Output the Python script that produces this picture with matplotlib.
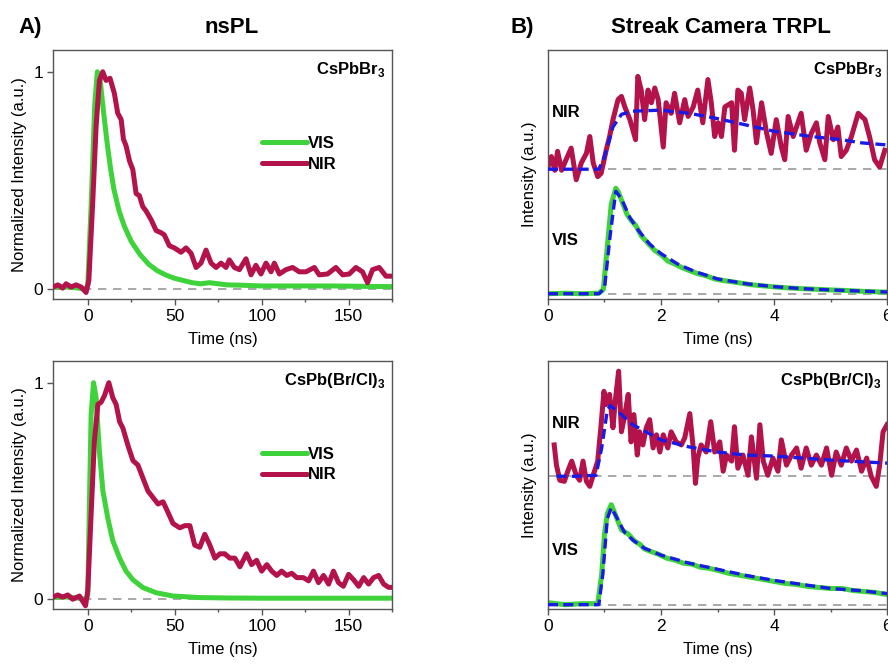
import matplotlib
matplotlib.use("Agg")
import matplotlib.pyplot as plt
from matplotlib.ticker import MultipleLocator

plt.rcParams["font.family"] = ["Liberation Sans", "DejaVu Sans"]
plt.rcParams["mathtext.fontset"] = "custom"
plt.rcParams["mathtext.rm"] = "Liberation Sans"
plt.rcParams["mathtext.bf"] = "Liberation Sans:bold"

RED = "#B3124A"
GREEN = "#3ED33A"
BLUE = "#1A1AE6"
GREY = "#999999"
SPINE = "#555555"

# ---- A) nsPL, CsPbBr3 ----
a1_vis_t = [-20, -10, -1, 0, 2, 4, 5.5, 7, 9, 11, 13, 15, 18, 21, 25, 30, 35, 40, 45, 50,
            55, 60, 65, 70, 80, 90, 100, 120, 140, 160, 175]
a1_vis_v = [0.01, 0.01, 0.0, 0.02, 0.4, 0.85, 1.0, 0.97, 0.82, 0.68, 0.56, 0.46, 0.36, 0.29,
            0.22, 0.16, 0.115, 0.085, 0.065, 0.05, 0.04, 0.03, 0.025, 0.03, 0.02, 0.018,
            0.015, 0.015, 0.015, 0.013, 0.012]
a1_nir_t = [-20, -17.2, -14.4, -12.5, -9.6, -6.7, -3.8, -1.0, 0.6, 2.9, 4.8, 6.7, 8.6, 10.5,
            12.8, 15.3, 17.2, 19.2, 20.5, 22, 24, 25.9, 27.8, 29.7, 31.6, 33.5, 36.4, 39.3,
            42.1, 44, 46.9, 49.8, 53.6, 56.5, 59.4, 62.3, 65.1, 68, 70.9, 73.8, 76.6, 79.5,
            81.4, 84.3, 87.2, 91, 93.9, 96.7, 99.6, 102.5, 105.4, 107.3, 110.2, 114, 117.8,
            121.6, 125.5, 130.3, 133.1, 137.9, 142.7, 146.6, 150.4, 154.2, 158, 160.9, 163.8,
            167.6, 171.5, 175]
a1_nir_v = [0.01, 0.02, 0.005, 0.025, 0.01, 0.02, 0.01, -0.015, 0.04, 0.41, 0.75, 0.96, 1.0,
            0.96, 0.97, 0.90, 0.81, 0.78, 0.69, 0.66, 0.59, 0.55, 0.44, 0.43, 0.38, 0.36, 0.32,
            0.27, 0.26, 0.25, 0.20, 0.19, 0.17, 0.19, 0.165, 0.10, 0.12, 0.18, 0.12, 0.10, 0.12,
            0.10, 0.135, 0.10, 0.09, 0.14, 0.066, 0.11, 0.07, 0.12, 0.08, 0.12, 0.07, 0.09,
            0.10, 0.08, 0.08, 0.10, 0.066, 0.07, 0.10, 0.066, 0.07, 0.10, 0.08, 0.03, 0.09,
            0.10, 0.06, 0.06]

# ---- A) nsPL, CsPb(Br/Cl)3 ----
a2_vis_t = [-20, -10, -1, 0, 1, 1.9, 3.3, 4.8, 6.7, 8.7, 11.5, 14.4, 18.3, 22, 26, 31.7, 39.4,
            49, 64, 80, 100, 130, 160, 175]
a2_vis_v = [0.01, 0.01, 0.0, 0.02, 0.47, 0.85, 1.0, 0.93, 0.68, 0.50, 0.375, 0.27, 0.19, 0.13,
            0.09, 0.054, 0.03, 0.015, 0.008, 0.006, 0.005, 0.005, 0.005, 0.005]
a2_nir_t = [-20, -17.3, -14.4, -11.5, -8.7, -4.8, -1.3, 0, 1.9, 3.8, 5.8, 7.7, 9.6, 12.1, 14.4,
            16.3, 18.3, 20.2, 23.1, 26, 28.8, 31.7, 34.6, 37.5, 40.4, 43.3, 46.2, 49, 52.9,
            55.8, 58.7, 61.5, 64.4, 67.3, 70.2, 73.1, 76, 78.8, 81.7, 84.6, 87.5, 91.3, 94.2,
            97.1, 100, 103, 105.8, 108.7, 111.5, 114.4, 117.3, 120.2, 124, 127, 129.8, 132.7,
            135.6, 138.5, 141.3, 144.2, 147, 150, 152.9, 155.8, 158.7, 161.5, 164.4, 167.3,
            170.2, 173, 175]
a2_nir_v = [0.01, 0.02, 0.01, 0.02, 0.0, 0.015, -0.03, 0.04, 0.39, 0.73, 0.90, 0.91, 0.94, 1.0,
            0.93, 0.90, 0.82, 0.79, 0.71, 0.64, 0.62, 0.56, 0.50, 0.47, 0.44, 0.45, 0.40, 0.35,
            0.33, 0.34, 0.34, 0.25, 0.24, 0.30, 0.25, 0.19, 0.21, 0.21, 0.19, 0.19, 0.15, 0.21,
            0.16, 0.18, 0.13, 0.16, 0.13, 0.11, 0.13, 0.11, 0.12, 0.10, 0.10, 0.085, 0.13,
            0.077, 0.11, 0.07, 0.13, 0.077, 0.06, 0.115, 0.09, 0.06, 0.10, 0.07, 0.10, 0.11,
            0.07, 0.055, 0.055]

# ---- B) streak camera, CsPbBr3 (offset traces) ----
b1_nir_base = 1.18
b1_nir_t = [0.0, 0.06, 0.12, 0.17, 0.24, 0.32, 0.41, 0.50, 0.59, 0.68, 0.74, 0.80, 0.88, 0.94,
            1.03, 1.09, 1.15, 1.24, 1.30, 1.36, 1.45, 1.55, 1.59, 1.65, 1.71, 1.77, 1.83, 1.89,
            1.95, 2.04, 2.09, 2.18, 2.24, 2.33, 2.42, 2.48, 2.57, 2.65, 2.74, 2.83, 2.89, 2.95,
            3.01, 3.07, 3.13, 3.25, 3.30, 3.36, 3.42, 3.48, 3.57, 3.63, 3.69, 3.78, 3.87, 3.95,
            4.04, 4.13, 4.19, 4.25, 4.34, 4.48, 4.57, 4.66, 4.75, 4.81, 4.90, 4.96, 5.05, 5.13,
            5.19, 5.28, 5.37, 5.49, 5.61, 5.69, 5.78, 5.87, 5.96]
b1_nir_v = [1.20, 1.30, 1.17, 1.35, 1.17, 1.27, 1.38, 1.08, 1.24, 1.33, 1.49, 1.24, 1.11, 1.14,
            1.36, 1.49, 1.65, 1.84, 1.87, 1.77, 1.65, 1.46, 2.06, 1.93, 1.65, 1.93, 1.81, 1.95,
            1.84, 1.39, 1.81, 1.71, 1.90, 1.62, 1.84, 1.68, 1.77, 1.93, 1.62, 2.03, 1.81, 1.49,
            1.62, 1.49, 1.77, 1.81, 1.36, 1.93, 1.90, 1.65, 1.95, 1.74, 1.43, 1.81, 1.52, 1.33,
            1.65, 1.39, 1.27, 1.68, 1.49, 1.71, 1.36, 1.52, 1.62, 1.43, 1.27, 1.68, 1.46, 1.58,
            1.30, 1.36, 1.49, 1.71, 1.65, 1.49, 1.27, 1.20, 1.36]
b1_nir_fit_t = [0.0, 0.5, 0.9, 1.0, 1.15, 1.3, 1.5, 2.0, 2.5, 3.0, 3.5, 4.0, 4.66, 5.19, 5.55, 6.0]
b1_nir_fit_v = [1.18, 1.18, 1.18, 1.30, 1.58, 1.70, 1.73, 1.74, 1.71, 1.66, 1.60, 1.54, 1.49,
                1.46, 1.43, 1.41]
b1_vis_t = [0, 0.3, 0.6, 0.9, 0.98, 1.05, 1.12, 1.2, 1.25, 1.32, 1.4, 1.48, 1.55, 1.65, 1.75,
            1.89, 2.0, 2.12, 2.25, 2.36, 2.5, 2.65, 2.8, 2.95, 3.1, 3.3, 3.6, 3.8, 4.0, 4.25,
            4.5, 4.75, 5.0, 5.3, 5.6, 6.0]
b1_vis_v = [0.0, 0.005, 0.0, 0.005, 0.04, 0.45, 0.85, 1.0, 0.96, 0.86, 0.75, 0.69, 0.65, 0.55,
            0.49, 0.41, 0.37, 0.31, 0.28, 0.25, 0.22, 0.19, 0.17, 0.14, 0.125, 0.11, 0.085,
            0.075, 0.065, 0.055, 0.048, 0.042, 0.036, 0.03, 0.022, 0.015]
b1_vis_fit_t = [0, 0.9, 1.0, 1.1, 1.2, 1.3, 1.45, 1.6, 1.8, 2.0, 2.3, 2.6, 3.0, 3.5, 4.0, 4.5,
                5.0, 5.5, 6.0]
b1_vis_fit_v = [0, 0, 0.05, 0.55, 0.97, 0.9, 0.72, 0.6, 0.47, 0.38, 0.28, 0.21, 0.14, 0.095,
                0.067, 0.048, 0.036, 0.026, 0.016]

# ---- B) streak camera, CsPb(Br/Cl)3 ----
b2_nir_base = 1.27
b2_nir_t = [0.11, 0.15, 0.21, 0.29, 0.35, 0.42, 0.50, 0.56, 0.62, 0.68, 0.74, 0.80, 0.88, 0.94,
            0.99, 1.03, 1.09, 1.15, 1.19, 1.25, 1.30, 1.36, 1.42, 1.47, 1.52, 1.58, 1.62, 1.68,
            1.74, 1.80, 1.86, 1.92, 1.98, 2.04, 2.12, 2.18, 2.27, 2.36, 2.42, 2.51, 2.57, 2.61,
            2.65, 2.71, 2.80, 2.88, 2.95, 3.04, 3.10, 3.16, 3.25, 3.30, 3.36, 3.45, 3.54, 3.60,
            3.69, 3.75, 3.81, 3.89, 3.98, 4.07, 4.13, 4.22, 4.31, 4.40, 4.48, 4.57, 4.66, 4.75,
            4.84, 4.93, 5.02, 5.10, 5.19, 5.28, 5.37, 5.46, 5.55, 5.64, 5.72, 5.81, 5.87, 5.93,
            6.0]
b2_nir_v = [1.58, 1.38, 1.23, 1.22, 1.32, 1.42, 1.28, 1.23, 1.42, 1.22, 1.17, 1.28, 1.42, 1.78,
            2.11, 1.98, 2.08, 1.75, 2.01, 2.31, 1.71, 1.88, 2.08, 1.61, 1.88, 1.48, 1.71, 1.58,
            1.75, 1.83, 1.55, 1.68, 1.51, 1.68, 1.55, 1.71, 1.61, 1.58, 1.65, 1.89, 1.55, 1.20,
            1.45, 1.58, 1.51, 1.81, 1.51, 1.61, 1.32, 1.48, 1.42, 1.76, 1.35, 1.48, 1.28, 1.66,
            1.25, 1.78, 1.42, 1.28, 1.45, 1.32, 1.63, 1.38, 1.48, 1.55, 1.35, 1.55, 1.38, 1.48,
            1.38, 1.55, 1.28, 1.51, 1.38, 1.55, 1.42, 1.53, 1.32, 1.45, 1.27, 1.17, 1.38, 1.71,
            1.78]
b2_nir_fit_t = [0.15, 0.5, 0.85, 0.95, 1.05, 1.1, 1.3, 1.5, 2.0, 2.5, 3.0, 3.5, 4.0, 5.0, 6.0]
b2_nir_fit_v = [1.27, 1.27, 1.28, 1.55, 1.92, 1.97, 1.88, 1.78, 1.63, 1.56, 1.51, 1.48, 1.47,
                1.43, 1.40]
b2_vis_t = [0, 0.3, 0.6, 0.88, 0.95, 1.0, 1.05, 1.12, 1.2, 1.3, 1.42, 1.53, 1.62, 1.71, 1.85,
            1.95, 2.1, 2.25, 2.4, 2.55, 2.7, 2.85, 3.0, 3.2, 3.4, 3.6, 3.8, 4.0, 4.2, 4.4, 4.6,
            4.8, 5.0, 5.2, 5.4, 5.6, 5.8, 6.0]
b2_vis_v = [0.02, 0.0, 0.01, 0.01, 0.3, 0.7, 0.9, 0.99, 0.88, 0.74, 0.70, 0.63, 0.60, 0.55,
            0.52, 0.50, 0.46, 0.44, 0.41, 0.40, 0.37, 0.36, 0.34, 0.31, 0.29, 0.27, 0.25, 0.23,
            0.21, 0.20, 0.18, 0.17, 0.16, 0.16, 0.14, 0.13, 0.12, 0.10]
b2_vis_fit_t = [0, 0.9, 0.97, 1.05, 1.12, 1.2, 1.35, 1.5, 1.7, 2.0, 2.5, 3.0, 3.5, 4.0, 4.5,
                5.0, 5.5, 6.0]
b2_vis_fit_v = [0, 0.0, 0.3, 0.85, 0.96, 0.88, 0.72, 0.64, 0.56, 0.49, 0.41, 0.35, 0.29, 0.24,
                0.20, 0.16, 0.14, 0.11]

LW = 3.6
TICK_FS = 12.5
LABEL_FS = 12


def style_axes(ax):
    for s in ax.spines.values():
        s.set_color(SPINE)
        s.set_linewidth(1.0)
    ax.tick_params(axis="both", which="major", direction="out", length=4, width=1,
                   color=SPINE, labelsize=TICK_FS, pad=3)
    ax.tick_params(axis="both", which="minor", direction="out", length=2.5, width=1,
                   color=SPINE)
    ax.set_xlabel("Time (ns)", fontsize=LABEL_FS, labelpad=6)


def panel_a(ax, vis_t, vis_v, nir_t, nir_v, name):
    ax.axhline(0, color=GREY, lw=1.2, dashes=(5, 4), zorder=1)
    ax.plot(vis_t, vis_v, color=GREEN, lw=LW, solid_capstyle="round", label="VIS", zorder=2)
    ax.plot(nir_t, nir_v, color=RED, lw=LW, solid_capstyle="round", label="NIR", zorder=3)
    ax.set_xlim(-20, 175)
    ax.set_ylim(-0.045, 1.1)
    ax.set_xticks([0, 50, 100, 150])
    ax.xaxis.set_minor_locator(MultipleLocator(25))
    ax.set_yticks([0, 1])
    style_axes(ax)
    ax.set_ylabel("Normalized Intensity (a.u.)", fontsize=LABEL_FS, labelpad=5)
    ax.text(0.98, 0.92, name, transform=ax.transAxes, ha="right", va="center",
            fontsize=12, fontweight="bold")
    leg = ax.legend(loc="upper left", bbox_to_anchor=(0.615, 0.655), frameon=False,
                    handlelength=2.7, handletextpad=0.1, labelspacing=0.35,
                    borderpad=0, borderaxespad=0, prop={"size": 12, "weight": "bold"})
    for line in leg.get_lines():
        line.set_linewidth(LW)


def panel_b(ax, nir_t, nir_v, nir_fit_t, nir_fit_v, base, vis_t, vis_v, vis_fit_t,
            vis_fit_v, ylim, name):
    ax.axhline(base, color=GREY, lw=1.2, dashes=(5, 4), zorder=1)
    ax.axhline(0, color=GREY, lw=1.2, dashes=(5, 4), zorder=1)
    ax.plot(nir_t, nir_v, color=RED, lw=LW, zorder=2)
    ax.plot(vis_t, vis_v, color=GREEN, lw=LW, zorder=2)
    ax.plot(nir_fit_t, nir_fit_v, color=BLUE, lw=2.4, dashes=(3, 1.6), zorder=3)
    ax.plot(vis_fit_t, vis_fit_v, color=BLUE, lw=2.4, dashes=(3, 1.6), zorder=3)
    ax.set_xlim(0, 6)
    ax.set_ylim(*ylim)
    ax.set_xticks([0, 2, 4, 6])
    ax.xaxis.set_minor_locator(MultipleLocator(1))
    ax.set_yticks([])
    style_axes(ax)
    ax.set_ylabel("Intensity (a.u.)", fontsize=LABEL_FS, labelpad=8)
    ax.text(0.012, 0.75, "NIR", transform=ax.transAxes, ha="left", va="center",
            fontsize=12, fontweight="bold")
    ax.text(0.012, 0.235, "VIS", transform=ax.transAxes, ha="left", va="center",
            fontsize=12, fontweight="bold")
    ax.text(0.985, 0.92, name, transform=ax.transAxes, ha="right", va="center",
            fontsize=12, fontweight="bold")


fig = plt.figure(figsize=(8.88, 6.64), dpi=100)
ax_a1 = fig.add_axes([0.0597, 0.5497, 0.3818, 0.375])
ax_a2 = fig.add_axes([0.0597, 0.0828, 0.3818, 0.3735])
ax_b1 = fig.add_axes([0.6171, 0.5497, 0.3818, 0.375])
ax_b2 = fig.add_axes([0.6171, 0.0828, 0.3818, 0.3735])

panel_a(ax_a1, a1_vis_t, a1_vis_v, a1_nir_t, a1_nir_v, r"CsPbBr$_\mathbf{3}$")
panel_a(ax_a2, a2_vis_t, a2_vis_v, a2_nir_t, a2_nir_v, r"CsPb(Br/Cl)$_\mathbf{3}$")
panel_b(ax_b1, b1_nir_t, b1_nir_v, b1_nir_fit_t, b1_nir_fit_v, b1_nir_base,
        b1_vis_t, b1_vis_v, b1_vis_fit_t, b1_vis_fit_v, (-0.05, 2.31), r"CsPbBr$_\mathbf{3}$")
panel_b(ax_b2, b2_nir_t, b2_nir_v, b2_nir_fit_t, b2_nir_fit_v, b2_nir_base,
        b2_vis_t, b2_vis_v, b2_vis_fit_t, b2_vis_fit_v, (-0.043, 2.41),
        r"CsPb(Br/Cl)$_\mathbf{3}$")

fig.text(0.034, 0.959, "A)", ha="center", va="center", fontsize=16, fontweight="bold")
fig.text(0.261, 0.959, "nsPL", ha="center", va="center", fontsize=16, fontweight="bold")
fig.text(0.588, 0.959, "B)", ha="center", va="center", fontsize=16, fontweight="bold")
fig.text(0.812, 0.959, "Streak Camera TRPL", ha="center", va="center", fontsize=16,
         fontweight="bold")

fig.savefig("out.png", dpi=100)
